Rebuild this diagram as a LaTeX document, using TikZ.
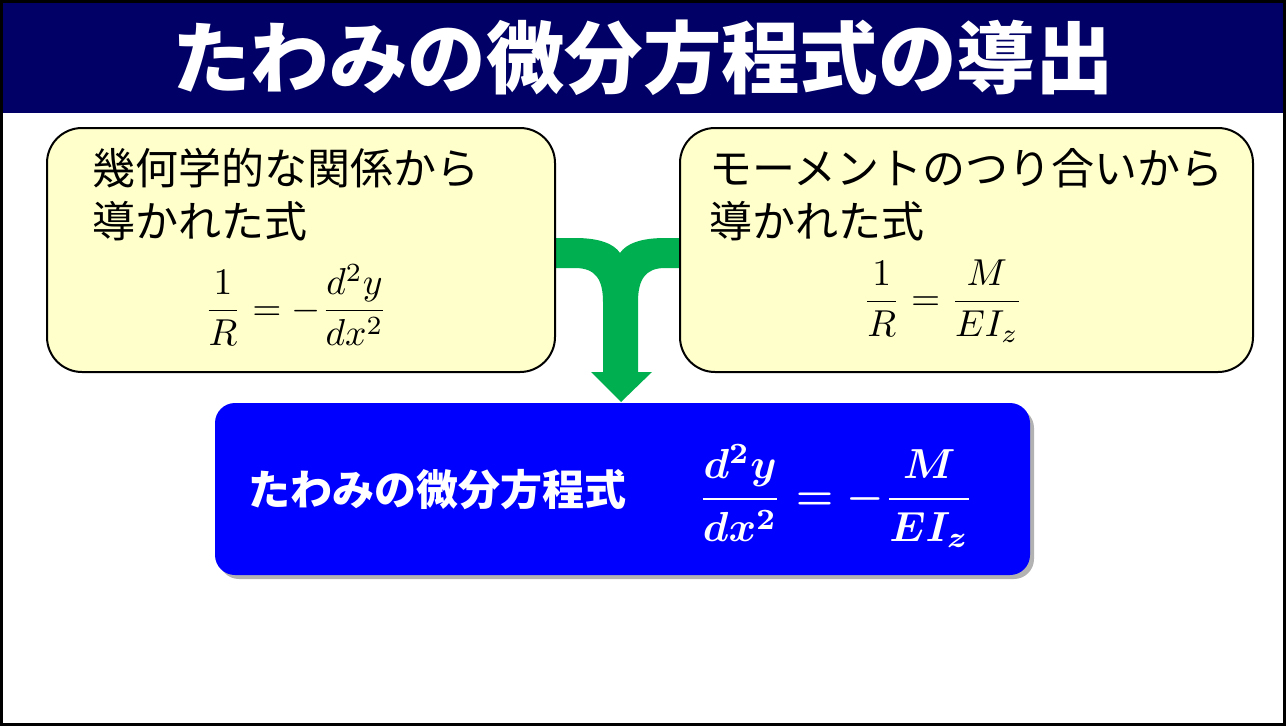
\documentclass[tikz,border=0pt]{standalone}
\usepackage{amsmath}
\usepackage{fontspec}
\newfontfamily\jp{Noto Sans CJK JP}
\definecolor{titlebg}{RGB}{0,0,102}
\definecolor{boxyellow}{RGB}{255,255,204}
\definecolor{arrowgreen}{RGB}{0,176,80}
\definecolor{boxblue}{RGB}{0,0,255}
\tikzset{
  titletext/.style={text=white, font=\jp\bfseries\fontsize{78.5}{82}\selectfont, inner sep=0},
  ybox/.style={draw=black, line width=2, fill=boxyellow, rounded corners=35, inner sep=0},
  boxtext/.style={anchor=base west, font=\jp\fontsize{43}{50}\selectfont, inner sep=0},
  eqtext/.style={font=\normalsize, scale=3.75, inner sep=0},
  bbox/.style={fill=boxblue, rounded corners=20, inner sep=0},
  bshadow/.style={fill=black, opacity=0.3, rounded corners=20},
  btext/.style={text=white, font=\jp\bfseries\fontsize{42}{48}\selectfont, inner sep=0},
  beq/.style={text=white, font=\normalsize\boldmath, scale=4.2, inner sep=0},
}
\begin{document}
\begin{tikzpicture}[x=1pt,y=-1pt]
\useasboundingbox (0,0) rectangle (1286,726);
\fill[white] (0,0) rectangle (1286,726);
\fill[titlebg] (3,3) rectangle (1283,113);
\draw[black, line width=3] (1.5,1.5) rectangle (1284.5,724.5);
\node[titletext] (title) at (643,58) {たわみの微分方程式の導出};

% green merging arrow
\fill[arrowgreen] (550,238) -- (575,238) .. controls (600,238) and (614,244) .. (620,253)
  .. controls (626,244) and (640,238) .. (665,238) -- (685,238) -- (685,268) -- (665,268)
  .. controls (645,268) and (638,280) .. (638,302) -- (638,372) -- (652,372) -- (621,402)
  -- (591,372) -- (603,372) -- (603,302) .. controls (603,280) and (596,268) .. (575,268)
  -- (550,268) -- cycle;

% left box
\node[ybox, minimum width=508, minimum height=244] (lbox) at (301,250) {};
\node[boxtext] (l1) at (92,184) {幾何学的な関係から};
\node[boxtext] (l2) at (92,237) {導かれた式};
\node[eqtext] (leq) at (296,305) {$\dfrac{1}{R}=-\dfrac{d^2y}{dx^2}$};

% right box
\node[ybox, minimum width=573, minimum height=244] (rbox) at (966.5,250) {};
\node[boxtext] (r1) at (709,184) {モーメントのつり合いから};
\node[boxtext] (r2) at (709,237) {導かれた式};
\node[eqtext] (req) at (943,301) {$\dfrac{1}{R}=\dfrac{M}{EI_z}$};

% result box
\fill[bshadow] (219,408) rectangle (1034,579);
\node[bbox, minimum width=815, minimum height=172] (res) at (622.5,489) {};
\node[btext, anchor=west] (rt) at (248,490) {たわみの微分方程式};
\node[beq] (req2) at (836,496) {$\dfrac{d^2y}{dx^2}=-\dfrac{M}{EI_z}$};
\end{tikzpicture}
\end{document}
